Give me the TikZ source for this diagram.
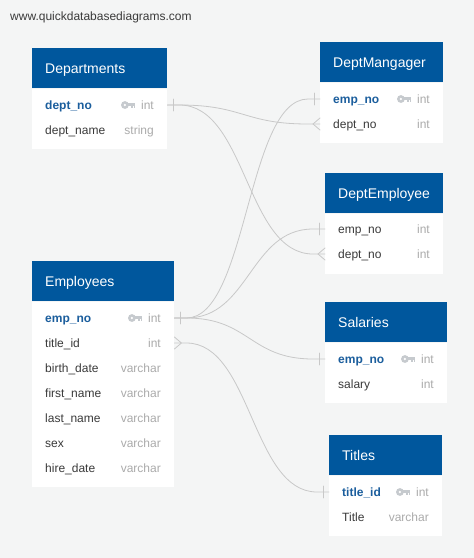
\documentclass[tikz,border=0pt]{standalone}
\usepackage{fontspec}
\setmainfont{Liberation Sans}
\usetikzlibrary{positioning}

\definecolor{bgcol}{HTML}{F4F5F5}
\definecolor{headcol}{HTML}{00579D}
\definecolor{pkcol}{HTML}{1B5E9D}
\definecolor{fieldcol}{HTML}{3A3A3A}
\definecolor{typecol}{HTML}{ABABAB}
\definecolor{keycol}{HTML}{C6CACE}
\definecolor{relcol}{HTML}{C8C8C8}

\tikzset{
	tblhead/.style={fill=headcol,text=white,anchor=north west,minimum height=40pt,inner xsep=13pt,inner ysep=0pt,
		align=left,text height=10pt,text depth=0pt,font=\fontsize{14}{16}\selectfont},
	tblbody/.style={fill=white,anchor=north west,inner sep=0pt},
	fld/.style={anchor=west,inner sep=0pt,text=fieldcol,text height=8.6pt,text depth=0pt,font=\fontsize{12}{14}\selectfont},
	pk/.style={fld,text=pkcol,font=\fontsize{12}{14}\selectfont\bfseries},
	typ/.style={fld,anchor=east,text=typecol},
	rel/.style={draw=relcol,line width=0.8pt},
	pkey/.pic={
		\fill[keycol,even odd rule] (-10,0) circle (3.9pt) (-10,0) circle (1.5pt);
		\fill[keycol] (-7,-1.7) rectangle (0,1.0);
		\fill[keycol] (-3.6,0) rectangle (-2.2,3.2);
		\fill[keycol] (-1.4,0) rectangle (0,2.6);
	}
}

\begin{document}
\begin{tikzpicture}[line cap=round,line join=round,x=1pt,y=-1pt]
	\fill[bgcol] (0,0) rectangle (474,558);
	\useasboundingbox (0,0) rectangle (474,558);
	\node[anchor=base west,inner sep=0pt,text=fieldcol,font=\fontsize{12}{14}\selectfont] (wm) at (10,20) {www.quickdatabasediagrams.com};

	% Departments
	\node[tblhead,text width=109pt] (dep) at (32,48) {Departments};
	\node[tblbody,minimum width=135pt,minimum height=60pt] (dep-b) at (dep.south west) {};
	\node[pk] (dep-dno) at (45,105) {dept\_no};
	\node[typ] (dep-dno-t) at (154,105) {int};
	\pic at ([xshift=-6pt]dep-dno-t.west) {pkey};
	\node[fld] (dep-dnm) at (45,130) {dept\_name};
	\node[typ] (dep-dnm-t) at (154,130) {string};

	% DeptMangager
	\node[tblhead,text width=97pt] (dm) at (320,42) {DeptMangager};
	\node[tblbody,minimum width=123pt,minimum height=60pt] (dm-b) at (dm.south west) {};
	\node[pk] (dm-eno) at (333,99) {emp\_no};
	\node[typ] (dm-eno-t) at (430,99) {int};
	\pic at ([xshift=-6pt]dm-eno-t.west) {pkey};
	\node[fld] (dm-dno) at (333,124) {dept\_no};
	\node[typ] (dm-dno-t) at (430,124) {int};

	% DeptEmployee
	\node[tblhead,text width=92pt] (de) at (325,173) {DeptEmployee};
	\node[tblbody,minimum width=118pt,minimum height=60pt] (de-b) at (de.south west) {};
	\node[fld] (de-eno) at (338,229) {emp\_no};
	\node[typ] (de-eno-t) at (430,229) {int};
	\node[fld] (de-dno) at (338,254) {dept\_no};
	\node[typ] (de-dno-t) at (430,254) {int};

	% Employees
	\node[tblhead,text width=116pt] (emp) at (32,261) {Employees};
	\node[tblbody,minimum width=142pt,minimum height=185pt] (emp-b) at (emp.south west) {};
	\node[pk] (emp-eno) at (45,318) {emp\_no};
	\node[typ] (emp-eno-t) at (161,318) {int};
	\pic at ([xshift=-6pt]emp-eno-t.west) {pkey};
	\node[fld] (emp-tid) at (45,343) {title\_id};
	\node[typ] (emp-tid-t) at (161,343) {int};
	\foreach \n/\t [count=\i] in {birth\_date/varchar,first\_name/varchar,last\_name/varchar,sex/varchar,hire\_date/varchar}{
		\node[fld] (emp-r\i) at (45,343+25*\i) {\n};
		\node[typ] (emp-r\i-t) at (161,343+25*\i) {\t};
	}

	% Salaries
	\node[tblhead,text width=96pt] (sal) at (325,302) {Salaries};
	\node[tblbody,minimum width=122pt,minimum height=60pt] (sal-b) at (sal.south west) {};
	\node[pk] (sal-eno) at (338,359) {emp\_no};
	\node[typ] (sal-eno-t) at (434,359) {int};
	\pic at ([xshift=-6pt]sal-eno-t.west) {pkey};
	\node[fld] (sal-sal) at (338,384) {salary};
	\node[typ] (sal-sal-t) at (434,384) {int};

	% Titles
	\node[tblhead,text width=87pt] (tit) at (329,435) {Titles};
	\node[tblbody,minimum width=113pt,minimum height=60pt] (tit-b) at (tit.south west) {};
	\node[pk] (tit-tid) at (342,492) {title\_id};
	\node[typ] (tit-tid-t) at (429,492) {int};
	\pic at ([xshift=-6pt]tit-tid-t.west) {pkey};
	\node[fld] (tit-ttl) at (342,517) {Title};
	\node[typ] (tit-ttl-t) at (429,517) {varchar};

	% connector ends on the table edges
	\coordinate (dep-o) at (dep-b.east |- dep-dno);
	\coordinate (emp-o) at (emp-b.east |- emp-eno);
	\coordinate (emp-m) at (emp-b.east |- emp-tid);
	\coordinate (dm-1) at (dm-b.west |- dm-eno);
	\coordinate (dm-2) at (dm-b.west |- dm-dno);
	\coordinate (de-1) at (de-b.west |- de-eno);
	\coordinate (de-2) at (de-b.west |- de-dno);
	\coordinate (sal-1) at (sal-b.west |- sal-eno);
	\coordinate (tit-1) at (tit-b.west |- tit-tid);

	% curves
	\draw[rel] (dep-o) -- ([xshift=12pt]dep-o) .. controls +(64,0) and +(-64,0) .. ([xshift=-12pt]dm-2) -- (dm-2);
	\draw[rel] (dep-o) -- ([xshift=12pt]dep-o) .. controls +(67,0) and +(-67,0) .. ([xshift=-12pt]de-2) -- (de-2);
	\draw[rel] (emp-o) -- ([xshift=12pt]emp-o) .. controls +(61,0) and +(-61,0) .. ([xshift=-12pt]dm-1) -- (dm-1);
	\draw[rel] (emp-o) -- ([xshift=12pt]emp-o) .. controls +(63,0) and +(-63,0) .. ([xshift=-12pt]de-1) -- (de-1);
	\draw[rel] (emp-o) -- ([xshift=12pt]emp-o) .. controls +(63,0) and +(-63,0) .. ([xshift=-12pt]sal-1) -- (sal-1);
	\draw[rel] (emp-m) -- ([xshift=12pt]emp-m) .. controls +(65,0) and +(-65,0) .. ([xshift=-12pt]tit-1) -- (tit-1);

	% one-bars
	\foreach \c/\d in {dep-o/6,emp-o/6,dm-1/-6,de-1/-6,sal-1/-6,tit-1/-6}
	\draw[rel] ([xshift=\d pt]\c) ++(0,-6) -- ++(0,12);
	% crow's feet
	\foreach \c/\d in {dm-2/-7,de-2/-7,emp-m/7}
	\draw[rel] (\c) ++(0,-6) -- ++(\d,6) -- ++(-\d,6);
\end{tikzpicture}
\end{document}
